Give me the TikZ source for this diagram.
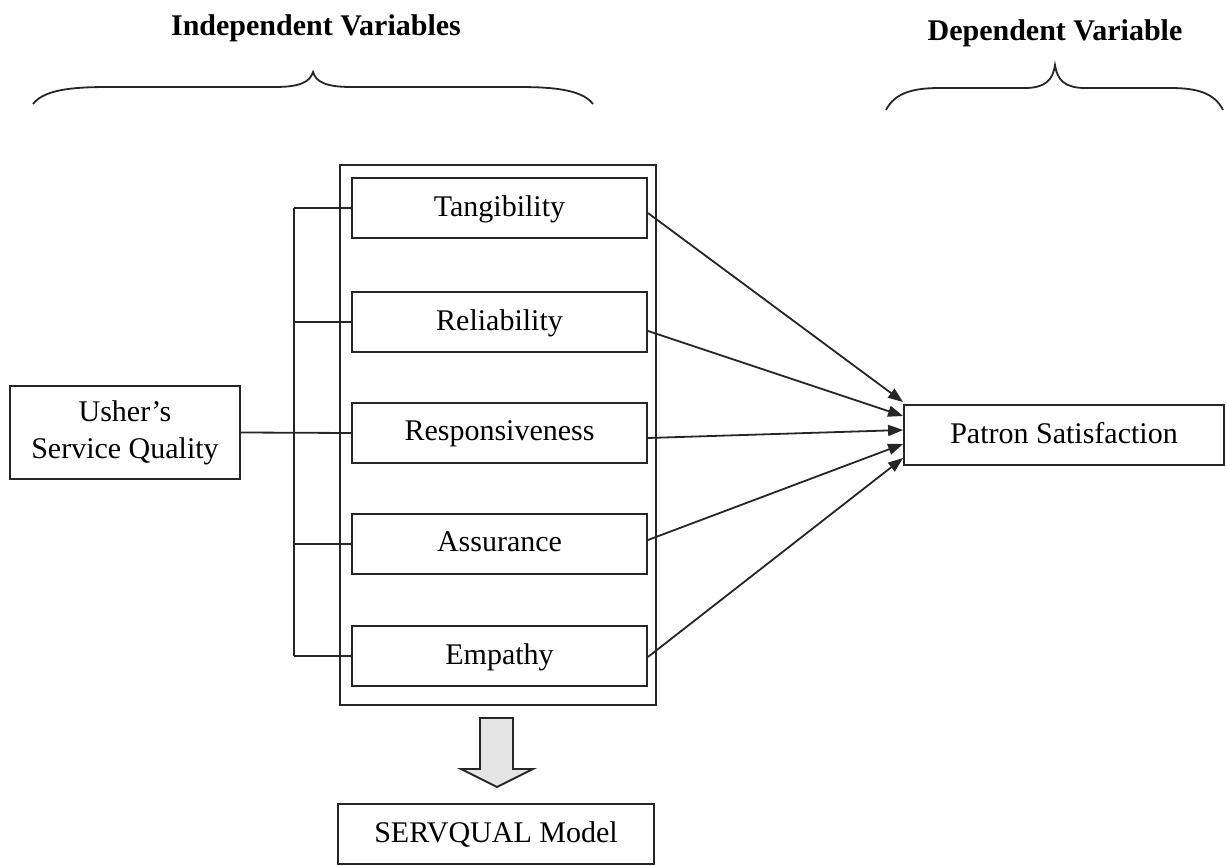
\documentclass[tikz,border=0pt]{standalone}
\usepackage{fontspec}
\setmainfont{Liberation Serif}
\usetikzlibrary{calc,arrows.meta}
\begin{document}
\begin{tikzpicture}[x=0.5pt,y=-0.5pt,
  ln/.style={draw=black!85, line width=0.9pt},
  var/.style={ln, rectangle, minimum width=147.5pt, minimum height=30pt, inner sep=0pt,
    font=\fontsize{15}{18.5}\selectfont, text depth=2pt},
  box/.style={ln, rectangle, inner sep=0pt, align=center,
    font=\fontsize{15}{18.5}\selectfont},
  head/.style={font=\fontsize{15}{18}\selectfont\bfseries},
  arr/.style={ln, -{Triangle[length=7.5pt,width=5.5pt]}},
  brace/.style={draw=black!85, line width=0.9pt}
]
\useasboundingbox (0,0) rectangle (1227,866);

% headings
\node[head] (indep) at (316,28) {Independent Variables};
\node[head] (dep) at (1055,33) {Dependent Variable};

% braces
\draw[brace] (33,104) .. controls (45,88) and (80,87) .. (110,87) -- (275,87)
  .. controls (300,87) and (310,82) .. (313,72)
  .. controls (316,82) and (326,87) .. (351,87) -- (516,87)
  .. controls (546,87) and (581,88) .. (593,104);
\draw[brace] (886,110) .. controls (895,92) and (915,88) .. (940,88) -- (1025,88)
  .. controls (1045,88) and (1053,80) .. (1055,65)
  .. controls (1057,80) and (1065,88) .. (1085,88) -- (1170,88)
  .. controls (1195,88) and (1214,92) .. (1223,110);

% outer frame
\node[ln, rectangle, minimum width=158pt, minimum height=270pt, inner sep=0pt] (frame) at (498,435) {};

% variables
\node[var] (tang) at (499.5,208) {Tangibility};
\node[var] (rel)  at (499.5,322) {Reliability};
\node[var] (resp) at (499.5,433) {Responsiveness};
\node[var] (ass)  at (499.5,544) {Assurance};
\node[var] (emp)  at (499.5,656) {Empathy};

% usher box
\node[box, minimum width=115pt, minimum height=46.5pt] (usher) at (125,432.5) {Usher’s\\Service Quality};

% patron box
\node[box, minimum width=160pt, minimum height=30pt, text depth=2pt] (patron) at (1064,435) {Patron Satisfaction};

% servqual box
\node[box, minimum width=158pt, minimum height=30pt, text depth=2pt] (serv) at (496,834) {SERVQUAL Model};

% bus
\coordinate (bt) at (294,208);
\coordinate (bb) at (294,656);
\draw[ln] (bt) -- (bb);
\draw[ln] (bt) -- (tang.west);
\draw[ln] (294,322) -- (rel.west);
\draw[ln] (usher.east) -- (resp.west);
\draw[ln] (294,544) -- (ass.west);
\draw[ln] (bb) -- (emp.west);

% arrows
\draw[arr] ($(tang.east)+(0,5)$) -- ($(patron.west)+(0,-33)$);
\draw[arr] ($(rel.east)+(0,9)$) -- ($(patron.west)+(0,-19)$);
\draw[arr] ($(resp.east)+(0,5)$) -- ($(patron.west)+(0,-5)$);
\draw[arr] ($(ass.east)+(0,-4)$) -- ($(patron.west)+(0,9)$);
\draw[arr] ($(emp.east)+(0,1)$) -- ($(patron.west)+(0,23)$);

% block arrow
\draw[ln, fill=black!10] (480,718) -- (513,718) -- (513,769) -- (533,769) -- (497,787)
  -- (461,769) -- (480,769) -- cycle;
\end{tikzpicture}
\end{document}
